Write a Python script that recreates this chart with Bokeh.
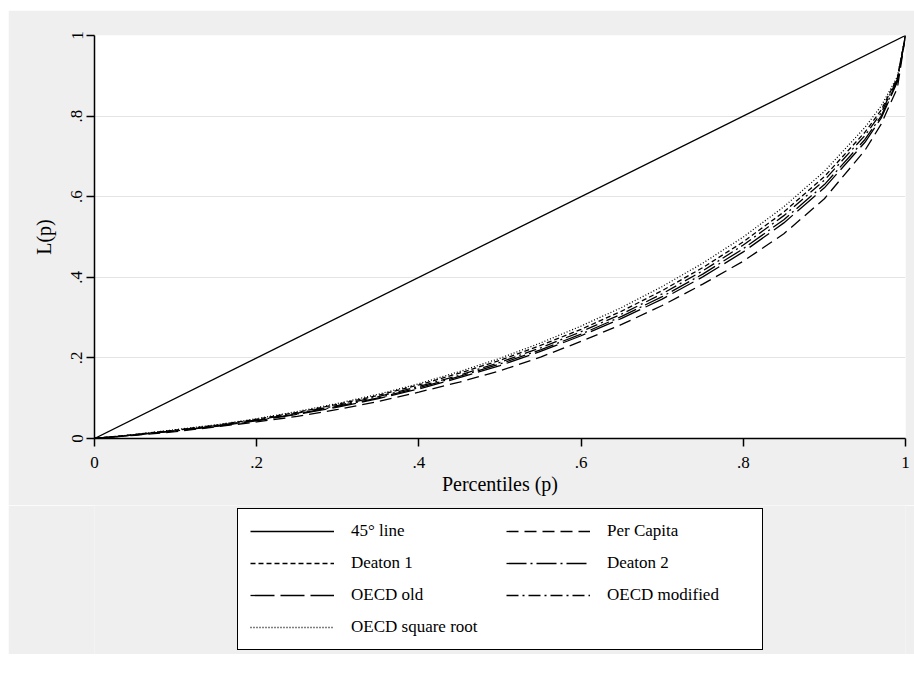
from bokeh.plotting import figure
from bokeh.layouts import column
from bokeh.models import Range1d, FixedTicker, Legend, LegendItem
from bokeh.embed import file_html
from bokeh.resources import INLINE

# ---- data ----
p_grid = [0, .05, .10, .15, .20, .25, .30, .35, .40, .45, .50, .55, .60, .65,
          .70, .75, .80, .85, .90, .95, .97, .99, 1.0]
diag_x = [0, 1]
diag_y = [0, 1]
per_capita = [0, .008, .017, .029, .041, .055, .072, .092, .115, .140, .168, .202, .241,
              .283, .330, .383, .440, .508, .595, .715, .780, .870, 1.0]
deaton1 = [0, .010, .021, .033, .048, .065, .085, .107, .133, .162, .194, .231, .271,
           .316, .367, .424, .488, .562, .650, .760, .815, .895, 1.0]
deaton2 = [0, .009, .019, .031, .045, .061, .080, .101, .126, .154, .185, .220, .259,
           .303, .352, .408, .471, .543, .630, .742, .800, .888, 1.0]
oecd_old = [0, .009, .019, .030, .044, .060, .078, .099, .123, .151, .181, .216, .255,
            .298, .346, .401, .463, .535, .622, .735, .795, .885, 1.0]
oecd_modified = [0, .009, .020, .032, .046, .063, .082, .104, .129, .157, .189, .225, .265,
                 .309, .359, .416, .480, .553, .641, .752, .808, .892, 1.0]
oecd_sqrt = [0, .010, .022, .034, .049, .067, .087, .110, .136, .166, .199, .237, .279,
             .325, .377, .435, .500, .575, .663, .772, .825, .898, 1.0]

tick_values = [0, 0.2, 0.4, 0.6, 0.8, 1]
tick_labels = ["0", ".2", ".4", ".6", ".8", "1"]
labels = ["45° line", "Per Capita", "Deaton 1", "Deaton 2", "OECD old",
          "OECD modified", "OECD square root"]
dashes = ["solid", "12 6", "5 3", "20 4 2 4", "24 6", "12 4 2 4", "1 2"]

FONT = "Liberation Serif"
BG = "#efefef"

# ---- main chart ----
p = figure(width=906, height=495,
           x_range=Range1d(0, 1), y_range=Range1d(0, 1),
           output_backend="svg", toolbar_location=None,
           min_border_left=86, min_border_top=25, min_border_right=9,
           min_border_bottom=67,
           background_fill_color="white", border_fill_color=BG,
           outline_line_color=None)

series = [diag_y, per_capita, deaton1, deaton2, oecd_old, oecd_modified, oecd_sqrt]
xs_list = [diag_x] + [p_grid] * 6
for xs, ys, dash in zip(xs_list, series, dashes):
    p.line(xs, ys, line_color="black", line_width=1.3, line_dash=dash)

overrides = dict(zip(tick_values, tick_labels))
for ax in (p.xaxis[0], p.yaxis[0]):
    ax.ticker = FixedTicker(ticks=tick_values)
    ax.major_label_overrides = overrides
    ax.axis_line_width = 1.5
    ax.axis_line_color = "black"
    ax.major_tick_line_width = 1.5
    ax.major_tick_out = 8
    ax.major_tick_in = 0
    ax.minor_tick_line_color = None
    ax.major_label_text_font = FONT
    ax.major_label_text_font_size = "17px"
    ax.major_label_text_color = "black"
    ax.axis_label_text_font = FONT
    ax.axis_label_text_font_size = "20px"
    ax.axis_label_text_font_style = "normal"
    ax.axis_label_text_color = "black"

p.xaxis.axis_label = "Percentiles (p)"
p.xaxis.major_label_standoff = 10
p.xaxis.axis_label_standoff = 2
p.yaxis.axis_label = "L(p)"
p.yaxis.major_label_orientation = "vertical"
p.yaxis.major_label_standoff = 4
p.yaxis.axis_label_standoff = 14

p.xgrid.grid_line_color = None
p.ygrid.ticker = FixedTicker(ticks=tick_values)
p.ygrid.grid_line_color = "#e4e4e4"
p.ygrid.grid_line_width = 1

# ---- legend panel (a second, axis-less figure below the chart) ----
# its ranges lie outside the data, so the key lines only serve the legend
lf = figure(width=906, height=149, x_range=Range1d(2, 3), y_range=Range1d(2, 3),
            x_axis_type=None, y_axis_type=None,
            output_backend="svg", toolbar_location=None,
            min_border_left=0, min_border_right=0, min_border_top=0, min_border_bottom=0,
            background_fill_color=BG, border_fill_color=BG, outline_line_color=None)
lf.xgrid.visible = False
lf.ygrid.visible = False

key = {}
for lab, xs, ys, dash in zip(labels, xs_list, series, dashes):
    key[lab] = lf.line(xs, ys, line_color="black", line_width=1.3, line_dash=dash)

# legend fills column by column: left column first, then right column
legend_order = ["45° line", "Deaton 1", "OECD old", "OECD square root",
                "Per Capita", "Deaton 2", "OECD modified"]
items = [LegendItem(label=lab, renderers=[key[lab]]) for lab in legend_order]
legend = Legend(items=items, ncols=2, location=(143, 4),
                label_text_font=FONT, label_text_font_size="17px",
                label_text_color="black",
                glyph_width=84, glyph_height=20, label_height=20,
                label_width=143, label_standoff=17, spacing=12, padding=12,
                border_line_color="black", border_line_width=1.5,
                border_line_alpha=1,
                background_fill_color="white", background_fill_alpha=1,
                margin=0)
lf.add_layout(legend, "center")

layout = column(p, lf, spacing=0)
layout.margin = (10, 0, 0, 8)

open("out.html", "w").write(file_html(layout, INLINE))
